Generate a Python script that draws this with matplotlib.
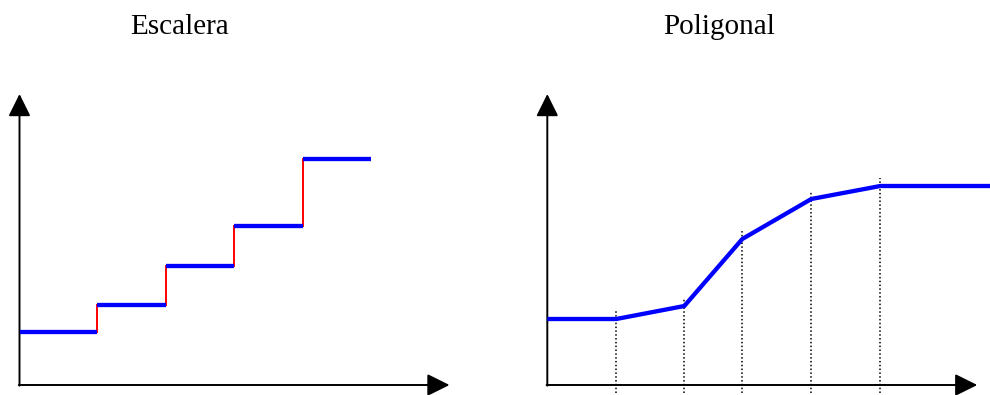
import matplotlib
matplotlib.use("Agg")
import matplotlib.pyplot as plt

# ---- data (units: pixels from each panel's origin) ----
step_edges = [0, 77, 146, 214, 283, 351]
step_levels = [53, 80, 119, 159, 226]

poly_x = [0, 69, 137, 195, 264, 333, 443]
poly_y = [66, 66, 79, 146, 186, 199, 199]
knots_x = [69, 137, 195, 264, 333]
knots_y = [66, 79, 146, 186, 199]

titles = ["Escalera", "Poligonal"]

fig = plt.figure(figsize=(9.9, 3.95), dpi=100)
fig.patch.set_facecolor("white")

axL = fig.add_axes([0, 0, 0.5, 1])
axR = fig.add_axes([0.5, 0, 0.5, 1])
axL.set_xlim(-19.5, 475.5)
axL.set_ylim(-10, 385)
axR.set_xlim(-52.3, 442.7)
axR.set_ylim(-10, 385)
for ax in (axL, axR):
    ax.axis("off")

def axes_arrows(ax, xlen, ylen):
    style = "-|>,head_length=1.37,head_width=0.68"
    kw = dict(arrowstyle=style, lw=1.4, color="black", mutation_scale=10,
              shrinkA=0, shrinkB=0)
    ax.annotate("", xy=(xlen, 0), xytext=(-0.7, 0), arrowprops=kw)
    ax.annotate("", xy=(0, ylen), xytext=(0, -0.7), arrowprops=kw)

axes_arrows(axL, 430, 291)
axes_arrows(axR, 430, 291)

# Escalera
for i, lvl in enumerate(step_levels):
    axL.plot([step_edges[i], step_edges[i + 1]], [lvl, lvl],
             color="#0000ff", lw=3.1, solid_capstyle="butt", zorder=3)
for i in range(1, len(step_levels)):
    axL.plot([step_edges[i], step_edges[i]], [step_levels[i - 1], step_levels[i]],
             color="#ff0000", lw=1.4, zorder=2)

# Poligonal
axR.vlines(knots_x, -8, [y + 8 for y in knots_y], colors="black",
           linestyles=(0, (1, 1.5)), lw=1.1, zorder=1)
axR.plot(poly_x, poly_y, color="#0000ff", lw=3.1, zorder=3,
         solid_joinstyle="miter", solid_capstyle="butt", clip_on=True)

fig.text(179.5 / 990, 1 - 34.3 / 395, titles[0], ha="center", va="baseline",
         family="Liberation Serif", fontsize=21)
fig.text(718.8 / 990, 1 - 34.3 / 395, titles[1], ha="center", va="baseline",
         family="Liberation Serif", fontsize=21)

fig.savefig("out.png", dpi=100, facecolor="white")
